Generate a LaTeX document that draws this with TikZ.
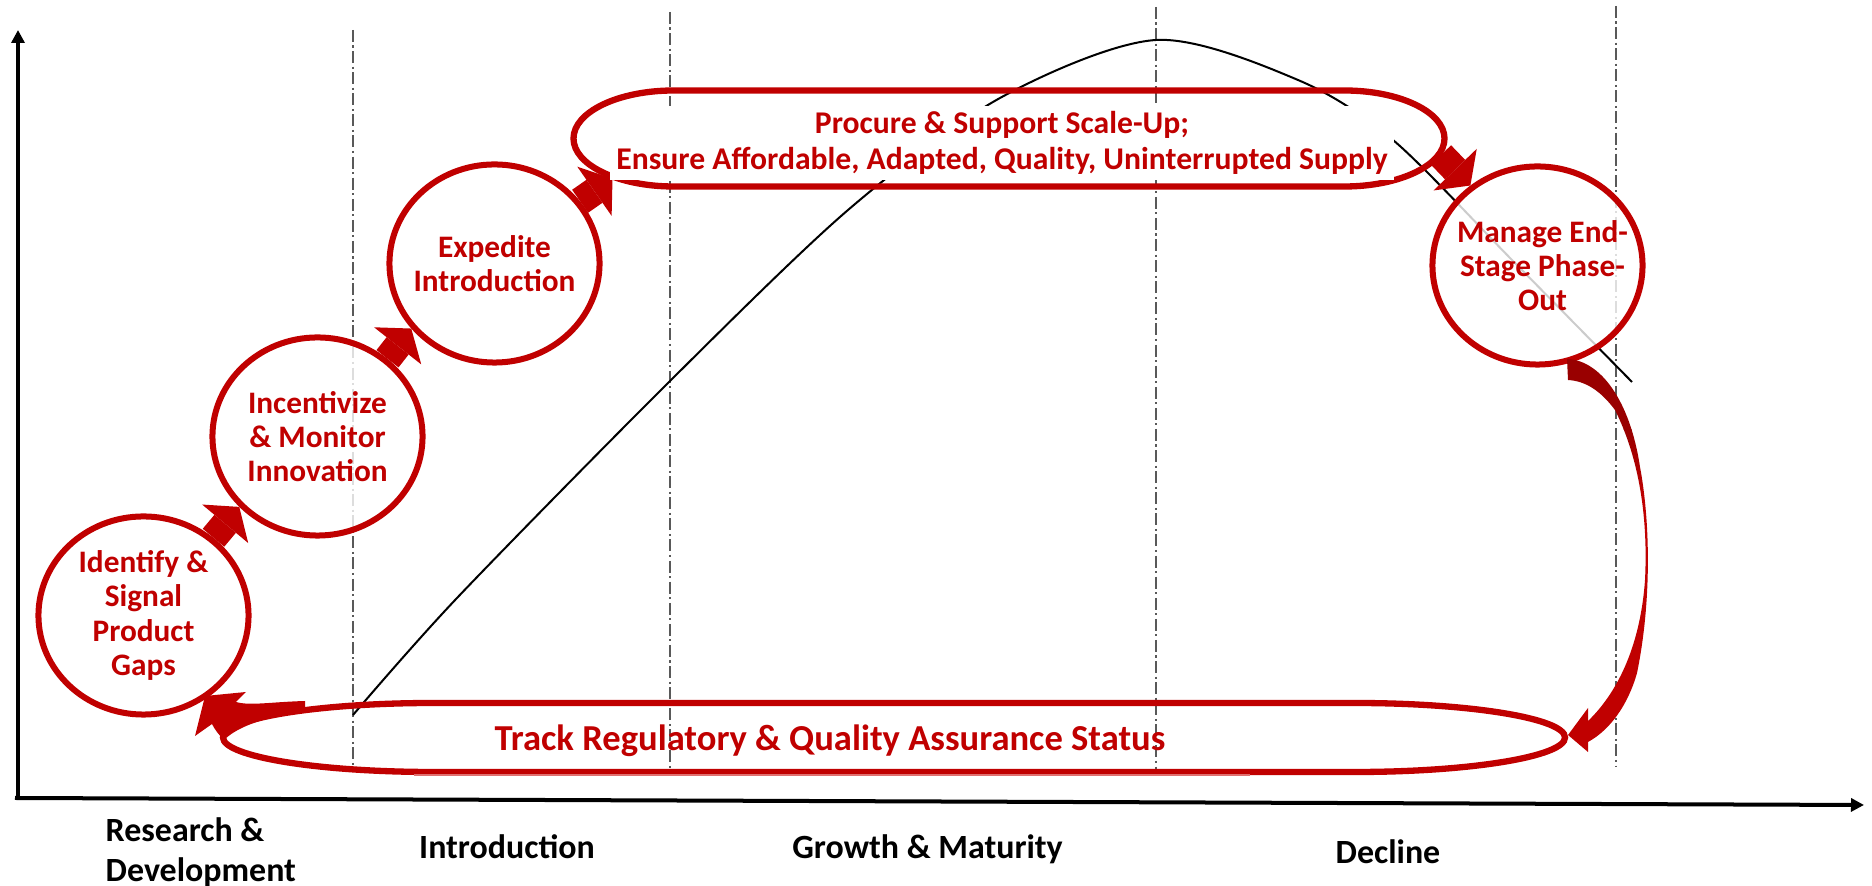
\documentclass[tikz,border=0pt]{standalone}
\usepackage{fontspec}
\setmainfont{Carlito}
\usetikzlibrary{shapes.geometric,arrows.meta}
\definecolor{myred}{HTML}{C00000}
\definecolor{mydark}{HTML}{990000}
\definecolor{lightred}{HTML}{E07070}
\newcommand\myCircFont{\fontsize{8.9pt}{9.76pt}\selectfont\bfseries}
\newcommand\myTopFont{\fontsize{9.0pt}{10.2pt}\selectfont\bfseries}
\newcommand\myBotFont{\fontsize{10.4pt}{12pt}\selectfont\bfseries}
\newcommand\myLabFont{\fontsize{9.65pt}{11.4pt}\selectfont\bfseries}
\tikzset{
  circ/.style={ellipse, draw=myred, line width=0.06cm, fill=white, fill opacity=0.8,
    minimum width=2.1cm, minimum height=1.98cm, inner sep=0pt},
  ctext/.style={inner sep=0pt, align=center, text=myred, font=\myCircFont},
  blk/.style={draw=myred, line width=0.28cm, -{Triangle[length=0.22cm,width=0.6cm,line width=0pt]}},
  phase/.style={dash pattern=on 3.4pt off 1pt on 0.6pt off 1pt, line width=0.015cm, draw=black!65},
  axisline/.style={line width=0.04cm, draw=black, -{Triangle[length=0.13cm,width=0.13cm]}},
  lab/.style={font=\myLabFont, text=black, inner sep=0pt},
  band/.style={draw=myred, line width=0.063cm},
}
\begin{document}
\begin{tikzpicture}[x=0.01cm, y=-0.01cm]
\useasboundingbox (0,0) rectangle (1872,886);
% phase separators
\draw[phase] (353,30) -- (353,767);
\draw[phase] (670,12) -- (670,770);
\draw[phase] (1156,7) -- (1156,770);
\draw[phase] (1616,6) -- (1616,767);
% life cycle curve
\draw[line width=0.02cm] plot[smooth, tension=0.5] coordinates {(353,715) (457,598) (669,382) (848,210) (1000,98) (1156,40) (1298,80) (1393,140) (1512,260) (1632,382)};
% axes
\coordinate (origin) at (18,798);
\draw[axisline] (origin) -- (18,30);
\draw[axisline] (15,798) -- (1864,805);
% bottom band
\draw[band] (433,703) -- (1355,703) .. controls (1471,703) and (1565,718.5) .. (1565,737.5) .. controls (1565,756.5) and (1471,772) .. (1355,772) -- (433,772) .. controls (317,772) and (223,756.5) .. (223,737.5) .. controls (223,718.5) and (317,703) .. (433,703) -- cycle;
\draw[lightred, line width=0.02cm] (414,775) -- (1250,775);
% top band
\draw[band] (673.5,90.5) -- (1344.5,90.5) .. controls (1399.7,90.5) and (1444.5,112) .. (1444.5,138.5) .. controls (1444.5,165) and (1399.7,186.5) .. (1344.5,186.5) -- (673.5,186.5) .. controls (618.3,186.5) and (573.5,165) .. (573.5,138.5) .. controls (573.5,112) and (618.3,90.5) .. (673.5,90.5) -- cycle;
\coordinate (pr-sw) at (612.5,178.7);
\coordinate (pr-se) at (1441,155);
% circles
\node[circ] (c1) at (143.5,615.5) {};
\node[circ] (c2) at (317.5,436.5) {};
\node[circ] (c3) at (494.5,263.5) {};
\node[circ] (c5) at (1537.5,265.5) {};
\node[ctext] (t1) at (c1) {Identify \&\\Signal\\Product\\Gaps};
\node[ctext] (t2) at (c2) {Incentivize\\\& Monitor\\Innovation};
\node[ctext] (t3) at (c3) {Expedite\\Introduction};
\node[ctext] (t5) at ([xshift=0.05cm]c5) {Manage End-\\Stage Phase-\\Out};
% block arrows
\draw[blk] (c1.48) -- (c2.222);
\draw[blk] (c2.48) -- (c3.218);
\draw[blk] (c3.36) -- (pr-sw);
\draw[blk] (pr-se) -- (c5.130);
% top text
\node[font=\myTopFont, text=myred, fill=white, align=center, minimum width=7.84cm, minimum height=0.74cm, inner sep=0pt] (procure) at (1002,143) {Procure \& Support Scale-Up;\\Ensure Affordable, Adapted, Quality, Uninterrupted Supply};
% bottom text
\node[font=\myBotFont, text=myred, anchor=base, inner sep=0pt] (track) at (830,751) {Track Regulatory \& Quality Assurance Status};
% curved arrow from bottom band to c1
\fill[myred] (205,696) -- (246,692) -- (236,702) .. controls (250,706) and (270,702) .. (305,701) -- (305,712) .. controls (268,716) and (238,726) .. (224,740) .. controls (219,735) and (215,730) .. (212,724) -- (195,736) -- cycle;
% curved arrow from c5 to bottom band
\begin{scope}
\clip (1567,359) .. controls (1600,360) and (1630,400) .. (1640,467) .. controls (1650,520) and (1652,600) .. (1637,673) .. controls (1628,705) and (1610,730) .. (1588,742) -- (1588,752) -- (1568,735) -- (1588,708) -- (1588,721) .. controls (1615,695) and (1640,650) .. (1645,580) .. controls (1648,520) and (1640,460) .. (1615,410) .. controls (1600,390) and (1585,381) .. (1568,380) -- cycle;
\fill[mydark] (1500,340) rectangle (1700,430);
\shade[top color=mydark, bottom color=myred] (1500,430) rectangle (1700,500);
\fill[myred] (1500,500) rectangle (1700,770);
\end{scope}
% axis labels
\node[lab, align=left, anchor=north west] (rd) at (105,817) {Research \&\\Development};
\node[lab, anchor=base] (intro) at (507,859) {Introduction};
\node[lab, anchor=base] (growth) at (927.5,859) {Growth \& Maturity};
\node[lab, anchor=base] (decline) at (1388,864) {Decline};
\end{tikzpicture}
\end{document}
